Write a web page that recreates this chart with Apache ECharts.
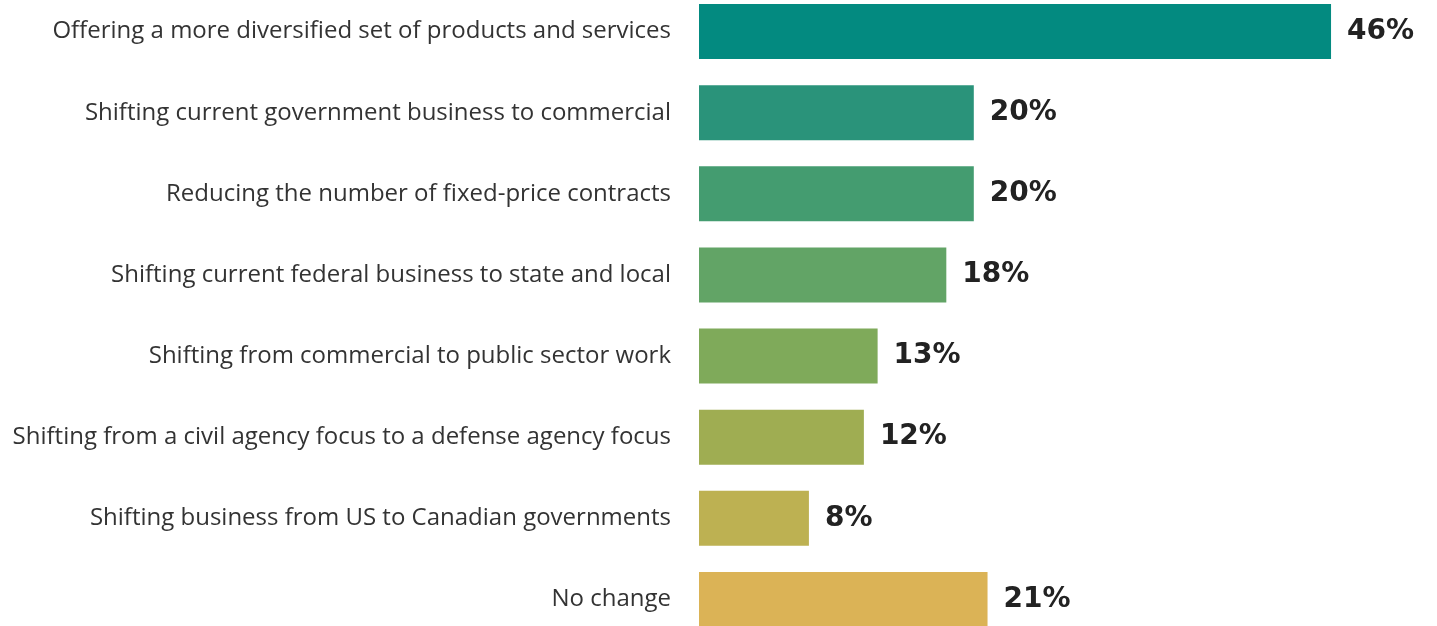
<!DOCTYPE html>
<html>
<head>
<meta charset="utf-8">
<script src="https://cdn.jsdelivr.net/npm/echarts@6/dist/echarts.min.js"></script>
<style>
  html, body { margin: 0; padding: 0; background: #ffffff; overflow: hidden; }
  body { width: 1437px; height: 626px; position: relative; }
  /* the category bands run slightly past the top and bottom edges */
  #chart { position: absolute; left: 0; top: -9px; width: 1437px; height: 649px; }
</style>
</head>
<body>
<div id="chart"></div>
<script>
// Strategies, listed top to bottom
const categories = [
  'Offering a more diversified set of products and services',
  'Shifting current government business to commercial',
  'Reducing the number of fixed-price contracts',
  'Shifting current federal business to state and local',
  'Shifting from commercial to public sector work',
  'Shifting from a civil agency focus to a defense agency focus',
  'Shifting business from US to Canadian governments',
  'No change'
];

// Share of respondents, percent
const shares = [46, 20, 20, 18, 13, 12, 8, 21];

// Teal-to-gold ramp, one colour per bar
const barColors = [
  '#038a80', '#2a937a', '#449c70', '#62a466',
  '#7faa5a', '#9fad52', '#bdb152', '#dbb356'
];

const chart = echarts.init(document.getElementById('chart'));

chart.setOption({
  animation: false,
  grid: { left: 699, right: 51, top: 0, bottom: 0, containLabel: false },
  xAxis: {
    type: 'value',
    min: 0,
    max: 50,
    show: false
  },
  yAxis: {
    type: 'category',
    inverse: true,
    data: categories,
    axisLine: { show: false },
    axisTick: { show: false },
    axisLabel: {
      margin: 28,
      color: '#333333',
      fontFamily: 'Open Sans',
      fontSize: 24,
      padding: [5, 0, 0, 0]
    }
  },
  series: [{
    type: 'bar',
    barWidth: 55,
    data: shares.map((v, i) => ({ value: v, itemStyle: { color: barColors[i] } })),
    label: {
      show: true,
      position: 'right',
      distance: 16,
      formatter: p => p.value + '%',
      color: '#222222',
      fontFamily: 'DejaVu Sans',
      fontWeight: 'bold',
      fontSize: 28,
      padding: [4, 0, 0, 0]
    }
  }]
});
</script>
</body>
</html>
